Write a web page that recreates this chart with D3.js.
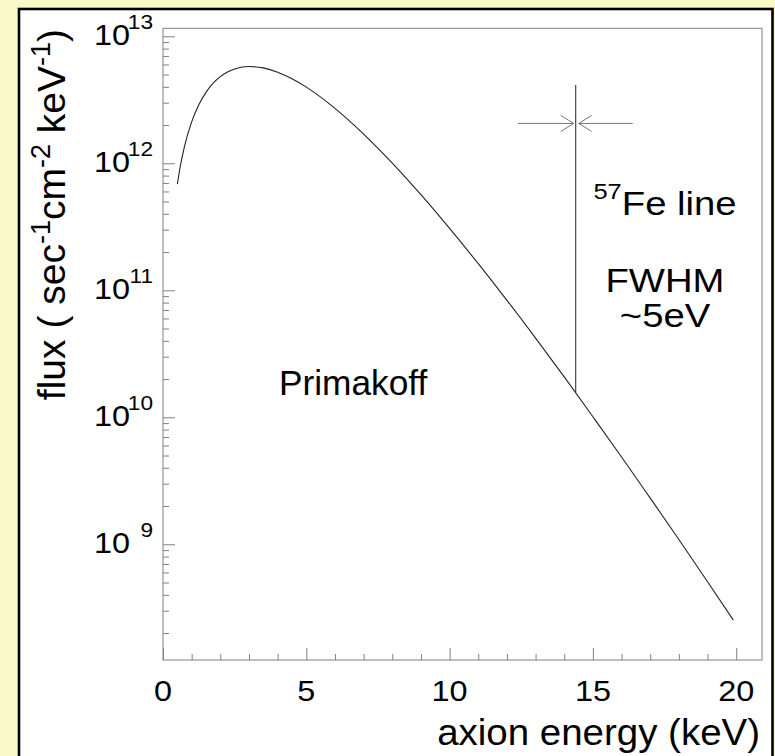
<!DOCTYPE html>
<html><head><meta charset="utf-8">
<script src="https://cdn.jsdelivr.net/npm/d3@7"></script>
<style>
html,body{margin:0;padding:0;background:#f8f9c6;}
svg{display:block;}
text{font-family:"Liberation Sans",Arial,Helvetica,sans-serif;fill:#000;}
</style>
</head><body>
<svg id="chart" width="775" height="756"></svg>
<script>
// ---- data ----
const energy = [0.5,0.6,0.75,1,1.25,1.5,1.75,2,2.25,2.5,3,3.5,4,4.5,5,6,7,8,9,10,11,12,13,14,15,16,17,18,19,19.9];
const flux = [6.85e11,9.39e11,1.36e12,2.12e12,2.89e12,3.62e12,4.27e12,4.81e12,5.23e12,5.53e12,5.78e12,5.64e12,5.22e12,4.63e12,3.98e12,2.71e12,1.70e12,1.004e12,5.66e11,3.07e11,1.62e11,8.34e10,4.20e10,2.08e10,1.01e10,4.87e9,2.31e9,1.09e9,5.07e8,2.53e8];
const xTickValues = [0,5,10,15,20];
const xTickLabels = ["0","5","10","15","20"];
const yTickValues = [1e9,1e10,1e11,1e12,1e13];
const yTickExponents = ["9","10","11","12","13"];
const feLineEnergy = 14.4;
const feLineTopFlux = 4.14e12;
const feLineBottomFlux = 1.56e10;
const fwhmArrowFlux = 2.06e12;
const fwhmArrowFrom = [12.38, 16.39];
const xTitle = "axion energy (keV)";
const annotations = ["Primakoff", "Fe line", "FWHM", "~5eV"];

// ---- layout ----
const svg = d3.select("#chart");
const L = 163, R = 762, T = 28.3, B = 660;
const x = d3.scaleLinear().domain([0, 20.9]).range([L, R]);
const y = d3.scaleLog().domain([1.227e8, 1.156e13]).range([B, T]);
const axisColor = "#808080";

// outer black frame with white inside
svg.append("rect").attr("x",19).attr("y",9).attr("width",753.5).attr("height",800)
  .attr("fill","#fff").attr("stroke","#000").attr("stroke-width",2.6);

// plot frame
svg.append("rect").attr("x",L).attr("y",T).attr("width",R-L).attr("height",B-T)
  .attr("fill","#fff").attr("stroke",axisColor).attr("stroke-width",1);

// x axis ticks
const xMinor = d3.range(0, 21).filter(v => v % 5 !== 0);
const gx = svg.append("g").attr("transform",`translate(0,${B})`);
gx.call(d3.axisBottom(x).tickValues(xTickValues).tickSize(-12).tickFormat(""));
const gx2 = svg.append("g").attr("transform",`translate(0,${B})`);
gx2.call(d3.axisBottom(x).tickValues(xMinor).tickSize(-6).tickFormat(""));
[gx,gx2].forEach(g=>{g.select(".domain").remove(); g.selectAll("line").attr("stroke",axisColor);});

// y axis ticks
const yMinor = [];
for (let e = 8; e <= 13; e++) for (let m = 2; m <= 9; m++) {
  const v = m * Math.pow(10, e);
  if (v >= y.domain()[0] && v <= y.domain()[1]) yMinor.push(v);
}
const gy = svg.append("g").attr("transform",`translate(${L},0)`);
gy.call(d3.axisLeft(y).tickValues(yTickValues).tickSize(-12).tickFormat(""));
const gy2 = svg.append("g").attr("transform",`translate(${L},0)`);
gy2.call(d3.axisLeft(y).tickValues(yMinor).tickSize(-6).tickFormat(""));
[gy,gy2].forEach(g=>{g.select(".domain").remove(); g.selectAll("line").attr("stroke",axisColor);});

// x tick labels
const sx = 1.08;
svg.append("g").selectAll("text").data(xTickValues).join("text")
  .attr("transform", (d)=>`translate(${x(d)},${B+41}) scale(${sx},1)`)
  .attr("text-anchor","middle").attr("font-size",30)
  .text((d,i)=>xTickLabels[i]);

// y tick labels 10^n
const yl = svg.append("g").selectAll("g").data(yTickValues).join("g");
yl.append("text")
  .attr("transform", d=>`translate(130,${y(d)+9}) scale(${sx},1)`)
  .attr("text-anchor","end").attr("font-size",30).text("10");
yl.append("text")
  .attr("transform", d=>`translate(153,${y(d)-7}) scale(${sx},1)`)
  .attr("text-anchor","end").attr("font-size",21).text((d,i)=>yTickExponents[i]);

// x title
svg.append("text").attr("transform",`translate(760,${745}) scale(1.04,1)`)
  .attr("text-anchor","end").attr("font-size",37).text(xTitle);

// y title (rotated)
const yt = svg.append("text").attr("transform","translate(65,29) rotate(-90)")
  .attr("text-anchor","end").attr("font-size",39);
yt.append("tspan").text("flux ( sec");
yt.append("tspan").attr("dy",-15).attr("font-size",27).text("-1");
yt.append("tspan").attr("dy",15).text("cm");
yt.append("tspan").attr("dy",-15).attr("font-size",27).text("-2");
yt.append("tspan").attr("dy",15).text(" keV");
yt.append("tspan").attr("dy",-15).attr("font-size",27).text("-1");
yt.append("tspan").attr("dy",15).text(")");

// curve
const pts = energy.map((e,i)=>[x(e), y(flux[i])]);
svg.append("path").attr("d", d3.line().curve(d3.curveMonotoneX)(pts))
  .attr("fill","none").attr("stroke","#222").attr("stroke-width",1.1);

// Fe line
svg.append("line").attr("x1",x(feLineEnergy)).attr("x2",x(feLineEnergy))
  .attr("y1",y(feLineTopFlux)).attr("y2",y(feLineBottomFlux))
  .attr("stroke","#333").attr("stroke-width",1.1);

// FWHM arrows
const ay = y(fwhmArrowFlux);
const xf = x(feLineEnergy);
const arrowColor = "#777";
const tipL = xf - 2, tipR = xf + 3;
svg.append("line").attr("x1",x(fwhmArrowFrom[0])).attr("x2",tipL).attr("y1",ay).attr("y2",ay).attr("stroke",arrowColor);
svg.append("line").attr("x1",x(fwhmArrowFrom[1])).attr("x2",tipR).attr("y1",ay).attr("y2",ay).attr("stroke",arrowColor);
svg.append("polyline").attr("points",`${tipL-13},${ay-8} ${tipL},${ay} ${tipL-13},${ay+8}`).attr("fill","none").attr("stroke",arrowColor);
svg.append("polyline").attr("points",`${tipR+13},${ay-8} ${tipR},${ay} ${tipR+13},${ay+8}`).attr("fill","none").attr("stroke",arrowColor);

// annotations
const as = 1.16;
svg.append("text").attr("transform",`translate(279,395) scale(0.98,1)`).attr("font-size",36).text(annotations[0]);
const fe = svg.append("text").attr("transform",`translate(665,215) scale(${as},1)`).attr("text-anchor","middle").attr("font-size",33);
fe.append("tspan").attr("font-size",22).attr("dy",-16).text("57");
fe.append("tspan").attr("dy",16).text(annotations[1]);
svg.append("text").attr("transform",`translate(665,291.7) scale(${as},1)`).attr("text-anchor","middle").attr("font-size",33).text(annotations[2]);
svg.append("text").attr("transform",`translate(665,326.7) scale(${as},1)`).attr("text-anchor","middle").attr("font-size",33).text(annotations[3]);
</script>
</body></html>
